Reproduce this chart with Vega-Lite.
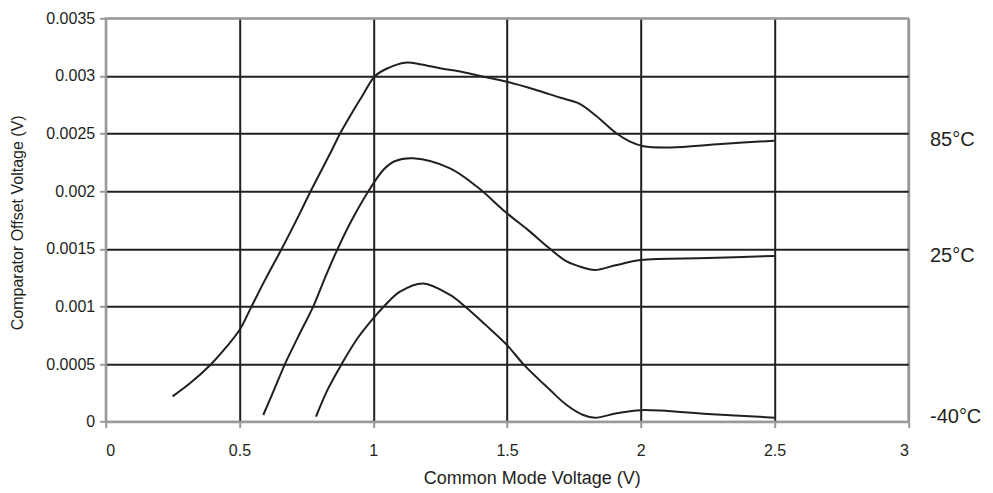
{
  "$schema": "https://vega.github.io/schema/vega-lite/v6.json",
  "autosize": "none",
  "width": 802.6,
  "height": 403.4,
  "padding": {"left": 105.7, "top": 18.3, "right": 84.7, "bottom": 71.3},
  "background": "white",
  "config": {
    "view": {"stroke": "#9a9a9a", "strokeWidth": 2},
    "font": "Liberation Sans",
    "text": {"font": "Liberation Sans"}
  },
  "layer": [
    {
      "data": {
        "values": [
          {"t": "85", "cmv": 0.25, "vos": 0.00022},
          {"t": "85", "cmv": 0.315, "vos": 0.000333},
          {"t": "85", "cmv": 0.39, "vos": 0.00049},
          {"t": "85", "cmv": 0.452, "vos": 0.000651},
          {"t": "85", "cmv": 0.5, "vos": 0.000795},
          {"t": "85", "cmv": 0.543, "vos": 0.00099},
          {"t": "85", "cmv": 0.6, "vos": 0.00125},
          {"t": "85", "cmv": 0.658, "vos": 0.0015},
          {"t": "85", "cmv": 0.726, "vos": 0.00181},
          {"t": "85", "cmv": 0.766, "vos": 0.002},
          {"t": "85", "cmv": 0.846, "vos": 0.00236},
          {"t": "85", "cmv": 0.876, "vos": 0.0025},
          {"t": "85", "cmv": 0.913, "vos": 0.00265},
          {"t": "85", "cmv": 0.96, "vos": 0.00283},
          {"t": "85", "cmv": 1.007, "vos": 0.003},
          {"t": "85", "cmv": 1.057, "vos": 0.00307},
          {"t": "85", "cmv": 1.119, "vos": 0.003115},
          {"t": "85", "cmv": 1.18, "vos": 0.0031},
          {"t": "85", "cmv": 1.25, "vos": 0.003066},
          {"t": "85", "cmv": 1.32, "vos": 0.00304},
          {"t": "85", "cmv": 1.4, "vos": 0.003},
          {"t": "85", "cmv": 1.5, "vos": 0.00295},
          {"t": "85", "cmv": 1.6, "vos": 0.002885},
          {"t": "85", "cmv": 1.7, "vos": 0.00281},
          {"t": "85", "cmv": 1.77, "vos": 0.00276},
          {"t": "85", "cmv": 1.835, "vos": 0.00265},
          {"t": "85", "cmv": 1.91, "vos": 0.0025},
          {"t": "85", "cmv": 1.96, "vos": 0.00243},
          {"t": "85", "cmv": 2.01, "vos": 0.00239},
          {"t": "85", "cmv": 2.11, "vos": 0.00238},
          {"t": "85", "cmv": 2.3, "vos": 0.00241},
          {"t": "85", "cmv": 2.5, "vos": 0.002438},
          {"t": "25", "cmv": 0.589, "vos": 0.000058},
          {"t": "25", "cmv": 0.63, "vos": 0.00028},
          {"t": "25", "cmv": 0.67, "vos": 0.0005},
          {"t": "25", "cmv": 0.72, "vos": 0.00074},
          {"t": "25", "cmv": 0.776, "vos": 0.001},
          {"t": "25", "cmv": 0.82, "vos": 0.00125},
          {"t": "25", "cmv": 0.867, "vos": 0.0015},
          {"t": "25", "cmv": 0.92, "vos": 0.00175},
          {"t": "25", "cmv": 0.982, "vos": 0.002},
          {"t": "25", "cmv": 1.04, "vos": 0.00219},
          {"t": "25", "cmv": 1.08, "vos": 0.00226},
          {"t": "25", "cmv": 1.15, "vos": 0.002285},
          {"t": "25", "cmv": 1.287, "vos": 0.002198},
          {"t": "25", "cmv": 1.387, "vos": 0.00204},
          {"t": "25", "cmv": 1.5, "vos": 0.001808},
          {"t": "25", "cmv": 1.58, "vos": 0.00166},
          {"t": "25", "cmv": 1.661, "vos": 0.0015},
          {"t": "25", "cmv": 1.723, "vos": 0.00139},
          {"t": "25", "cmv": 1.78, "vos": 0.00134},
          {"t": "25", "cmv": 1.829, "vos": 0.001316},
          {"t": "25", "cmv": 1.91, "vos": 0.00136},
          {"t": "25", "cmv": 2.0, "vos": 0.001403},
          {"t": "25", "cmv": 2.25, "vos": 0.00142},
          {"t": "25", "cmv": 2.5, "vos": 0.001438},
          {"t": "-40", "cmv": 0.786, "vos": 0.000043},
          {"t": "-40", "cmv": 0.83, "vos": 0.00028},
          {"t": "-40", "cmv": 0.882, "vos": 0.0005},
          {"t": "-40", "cmv": 0.94, "vos": 0.00072},
          {"t": "-40", "cmv": 1.0, "vos": 0.000897},
          {"t": "-40", "cmv": 1.04, "vos": 0.001},
          {"t": "-40", "cmv": 1.1, "vos": 0.001128},
          {"t": "-40", "cmv": 1.187, "vos": 0.0012},
          {"t": "-40", "cmv": 1.287, "vos": 0.0011},
          {"t": "-40", "cmv": 1.343, "vos": 0.001},
          {"t": "-40", "cmv": 1.42, "vos": 0.00084},
          {"t": "-40", "cmv": 1.5, "vos": 0.000665},
          {"t": "-40", "cmv": 1.561, "vos": 0.0005},
          {"t": "-40", "cmv": 1.661, "vos": 0.000275},
          {"t": "-40", "cmv": 1.723, "vos": 0.000145},
          {"t": "-40", "cmv": 1.785, "vos": 0.000058},
          {"t": "-40", "cmv": 1.829, "vos": 0.000035},
          {"t": "-40", "cmv": 1.91, "vos": 0.000073},
          {"t": "-40", "cmv": 2.0, "vos": 0.0001},
          {"t": "-40", "cmv": 2.25, "vos": 0.0000675},
          {"t": "-40", "cmv": 2.5, "vos": 0.000035}
        ]
      },
      "mark": {"type": "line", "interpolate": "catmull-rom", "color": "#231f20", "strokeWidth": 2},
      "encoding": {
        "x": {
          "field": "cmv",
          "type": "quantitative",
          "scale": {"domain": [0, 3], "nice": false, "zero": false},
          "axis": {
            "values": [0, 0.5, 1, 1.5, 2, 2.5, 3],
            "format": "~g",
            "title": "Common Mode Voltage (V)",
            "grid": true,
            "gridColor": {"condition": {"test": "datum.value > 2.9 || datum.value < 0.1", "value": "#9a9a9a"}, "value": "#231f20"},
            "gridWidth": 2,
            "domainColor": "#9a9a9a",
            "domainWidth": 2,
            "tickColor": "#9a9a9a",
            "tickWidth": 2,
            "tickSize": 6,
            "labelFont": "Liberation Sans",
            "labelFontSize": 16,
            "labelColor": "#231f20",
            "labelPadding": 15,
            "titleFont": "Liberation Sans",
            "titleFontSize": 18,
            "titleFontWeight": "normal",
            "titleColor": "#231f20",
            "titleX": 426,
            "titleY": 61.5,
            "titleAlign": "center",
            "titleBaseline": "alphabetic"
          }
        },
        "y": {
          "field": "vos",
          "type": "quantitative",
          "scale": {"domain": [0, 0.0035], "nice": false},
          "axis": {
            "values": [0, 0.0005, 0.001, 0.0015, 0.002, 0.0025, 0.003, 0.0035],
            "format": "~g",
            "title": "Comparator Offset Voltage (V)",
            "grid": true,
            "gridColor": {"condition": {"test": "datum.value > 0.0034 || datum.value < 0.0001", "value": "#9a9a9a"}, "value": "#231f20"},
            "gridWidth": 2,
            "domainColor": "#9a9a9a",
            "domainWidth": 2,
            "tickColor": "#9a9a9a",
            "tickWidth": 2,
            "tickSize": 6,
            "labelFont": "Liberation Sans",
            "labelFontSize": 16,
            "labelColor": "#231f20",
            "labelPadding": 5,
            "titleFont": "Liberation Sans",
            "titleFontSize": 16,
            "titleFontWeight": "normal",
            "titleColor": "#231f20",
            "titleAngle": -90,
            "titleX": -83.7,
            "titleY": 204,
            "titleAlign": "center",
            "titleBaseline": "alphabetic"
          }
        },
        "detail": {"field": "t", "type": "nominal"}
      }
    },
    {
      "data": {
        "values": [
          {"label": "85°C", "cmv": 3.081, "vos": 0.002392},
          {"label": "25°C", "cmv": 3.081, "vos": 0.001386},
          {"label": "-40°C", "cmv": 3.081, "vos": -0.000014}
        ]
      },
      "mark": {"type": "text", "align": "left", "baseline": "alphabetic", "fontSize": 20, "font": "Liberation Sans", "color": "#231f20", "clip": false},
      "encoding": {
        "x": {"field": "cmv", "type": "quantitative"},
        "y": {"field": "vos", "type": "quantitative"},
        "text": {"field": "label", "type": "nominal"}
      }
    }
  ]
}
